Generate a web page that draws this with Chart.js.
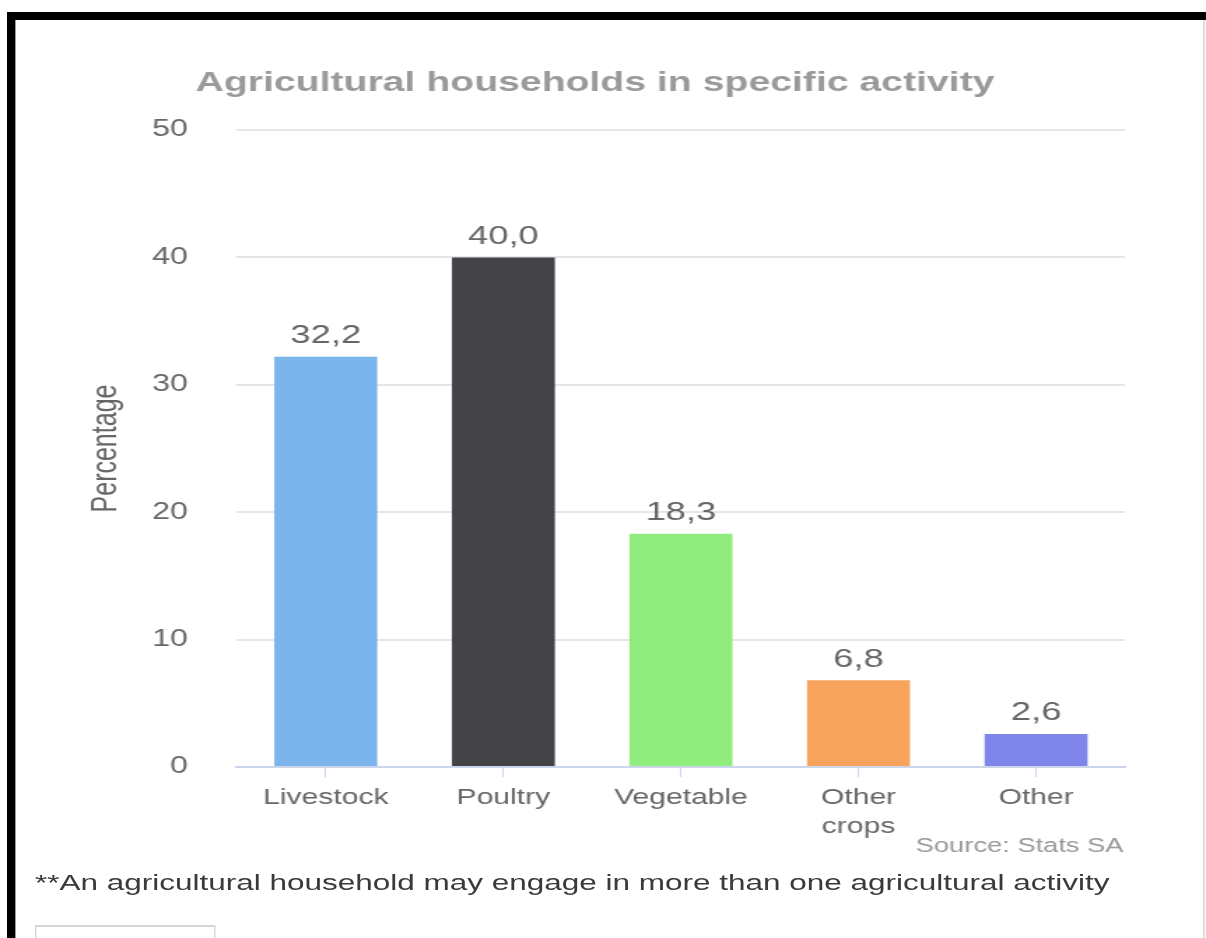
<!DOCTYPE html>
<html>
<head>
<meta charset="utf-8">
<script src="https://cdn.jsdelivr.net/npm/chart.js@4"></script>
<style>
  html, body { margin: 0; padding: 0; background: #fff; overflow: hidden; }
  body { width: 1206px; height: 938px; position: relative; }
  #stage { position: absolute; left: 0; top: 0; width: 862px; height: 938px; transform-origin: 0 0; font-family: "Liberation Sans", Arial, sans-serif; }
  #chart { position: absolute; left: 0; top: 0; }
  .blk { position: absolute; background: #000; }
  #rline { position: absolute; left: 860px; top: 20px; width: 1px; height: 918px; background: #cfcfcf; }
  #note { position: absolute; left: 25px; top: 870px; font-size: 22.5px; line-height: 26px; color: #3a3a3a; white-space: nowrap; }
  #box { position: absolute; left: 25px; top: 925px; width: 127px; height: 40px; border-style: solid; border-color: #d6d6d6; border-width: 2px 1.5px; }
</style>
</head>
<body>
<div id="stage">
  <div class="blk" style="left:5px;top:12px;width:857px;height:8px;"></div>
  <div class="blk" style="left:5px;top:12px;width:5.7px;height:926px;"></div>
  <div id="rline"></div>
  <canvas id="chart" width="862" height="938"></canvas>
  <div id="note">**An agricultural household may engage in more than one agricultural activity</div>
  <div id="box"></div>
</div>
<script>
// ---- data ----
const chartTitle = 'Agricultural households in specific activity';
const categories = ['Livestock', 'Poultry', 'Vegetable', ['Other', 'crops'], 'Other'];
const percentages = [32.2, 40.0, 18.3, 6.8, 2.6];
const barColors = ['#7cb5ec', '#434348', '#90ed7d', '#f7a35c', '#8085e9'];
const yAxisTitle = 'Percentage';
const sourceText = 'Source: Stats SA';
const yMin = 0, yMax = 50, yStep = 10;

// horizontal stretch to match the reference
const SX = 1206 / 862;
document.getElementById('stage').style.transform = 'scaleX(' + SX + ')';

const FONT = '"Liberation Sans", Arial, sans-serif';
Chart.defaults.font.family = FONT;

const fmt = v => v.toFixed(1).replace('.', ',');

const overlay = {
  id: 'overlay',
  afterDatasetsDraw(chart) {
    const ctx = chart.ctx;
    ctx.save();
    ctx.font = '26px ' + FONT;
    ctx.fillStyle = '#666666';
    ctx.textAlign = 'center';
    ctx.textBaseline = 'middle';
    chart.getDatasetMeta(0).data.forEach((bar, i) => {
      ctx.fillText(fmt(percentages[i]), bar.x, bar.y - 21);
    });
    ctx.restore();
  },
  afterDraw(chart) {
    const ctx = chart.ctx;
    ctx.save();
    ctx.textBaseline = 'middle';
    ctx.font = 'bold 28px ' + FONT;
    ctx.fillStyle = '#9a9a9a';
    ctx.textAlign = 'center';
    ctx.fillText(chartTitle, 595 / SX, 83);
    ctx.font = '19.5px ' + FONT;
    ctx.fillStyle = '#999999';
    ctx.textAlign = 'right';
    ctx.fillText(sourceText, chart.chartArea.right - 1, 847);
    ctx.restore();
  }
};

new Chart(document.getElementById('chart'), {
  type: 'bar',
  data: {
    labels: categories,
    datasets: [{
      data: percentages,
      backgroundColor: barColors,
      borderWidth: 0,
      barPercentage: 0.58,
      categoryPercentage: 1.0
    }]
  },
  options: {
    responsive: false,
    animation: false,
    devicePixelRatio: 1,
    layout: { padding: { left: 50, right: 58, top: 130, bottom: 71 } },
    plugins: {
      legend: { display: false },
      title: { display: false },
      tooltip: { enabled: false }
    },
    scales: {
      x: {
        offset: true,
        grid: { drawOnChartArea: false, drawTicks: true, tickLength: 10, tickColor: '#ccd6eb', tickWidth: 1, offset: false },
        border: { display: true, color: '#ccd6eb', width: 2 },
        ticks: { color: '#666666', font: { size: 21.5, lineHeight: 1.35 }, padding: 6.5, maxRotation: 0, autoSkip: false },
        afterFit: s => { s.height = 100; }
      },
      y: {
        min: yMin, max: yMax,
        grid: { color: '#e6e6e6', lineWidth: 2, drawTicks: false },
        border: { display: false },
        ticks: { stepSize: yStep, color: '#666666', font: { size: 23 }, padding: 35 },
        title: { display: true, text: yAxisTitle, color: '#666666', font: { size: 25 }, padding: { top: 11.5, bottom: 0 } },
        afterFit: s => { s.width = 119.4; }
      }
    }
  },
  plugins: [overlay]
});
</script>
</body>
</html>
